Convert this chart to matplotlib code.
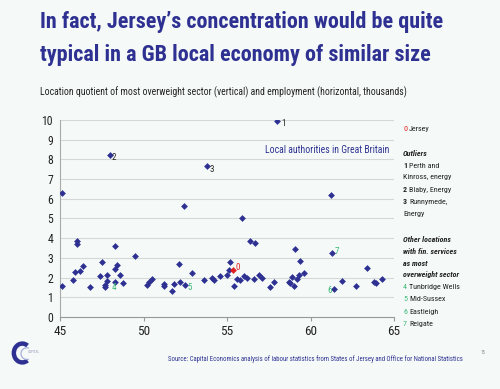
import matplotlib.pyplot as plt
from matplotlib import font_manager as fm
from matplotlib.patches import Arc

# employment (thousands) and location quotient of most overweight sector
emp = [45.1, 45.1, 45.8, 45.9, 46.0, 46.0, 46.2, 46.4, 46.8, 47.4, 47.5, 47.7, 47.7,
       47.8, 47.8, 48.0, 48.3, 48.3, 48.4, 48.3, 48.6, 48.8, 49.5, 50.2, 50.3, 50.5,
       51.2, 51.2, 51.7, 51.8, 52.1, 52.2, 52.4, 52.5, 52.9, 53.6, 53.8, 54.1, 54.2,
       54.6, 55.0, 55.1, 55.2, 55.4, 55.6, 55.8, 55.9, 56.0, 56.2, 56.4, 56.6, 56.7,
       56.9, 57.1, 57.6, 57.8, 58.0, 58.7, 58.8, 58.9, 59.0, 59.1, 59.2, 59.3, 59.4,
       59.6, 61.2, 61.3, 61.4, 61.9, 62.7, 63.4, 63.8, 63.9, 64.3]
lq = [6.3, 1.56, 1.86, 2.3, 3.85, 3.68, 2.34, 2.6, 1.53, 2.1, 2.81, 1.61, 1.53,
      1.83, 2.15, 8.22, 3.59, 2.46, 2.66, 1.76, 2.14, 1.75, 3.12, 1.61, 1.78, 1.95,
      1.58, 1.66, 1.32, 1.66, 2.7, 1.78, 5.63, 1.61, 2.22, 1.86, 7.68, 1.97, 1.86,
      2.1, 2.12, 2.36, 2.78, 1.59, 1.92, 1.88, 5.02, 2.1, 1.98, 3.85, 1.95, 3.76,
      2.12, 2.0, 1.54, 1.78, 9.92, 1.78, 1.75, 2.05, 1.58, 3.44, 1.92, 2.12, 2.85,
      2.24, 6.19, 3.25, 1.41, 1.83, 1.58, 2.49, 1.78, 1.75, 1.92]

jersey_emp = 55.35
jersey_lq = 2.36

# numbered point labels: (text, x, y, colour)
labels = [("1", 58.37, 9.83, "#222222"), ("2", 48.25, 8.1, "#222222"),
          ("3", 54.12, 7.46, "#222222"), ("0", 55.66, 2.49, "#e02020"),
          ("4", 48.25, 1.49, "#3cb878"), ("5", 52.78, 1.49, "#3cb878"),
          ("6", 61.13, 1.37, "#3cb878"), ("7", 61.57, 3.3, "#3cb878")]

navy = "#2e3192"
bg = "#f5faf8"
green = "#3cb878"
dark = "#222222"


def wnum(w):
    if isinstance(w, str):
        return fm.weight_dict.get(w, 400)
    return w


# pick a narrow sans face that has a bold cut
faces = {}
for f in fm.fontManager.ttflist:
    faces.setdefault(f.name, set()).add((wnum(f.weight) >= 700, f.style != 'normal'))
narrow = 'Liberation Sans'
for cand in ['Liberation Sans Narrow', 'Arial Narrow', 'Archivo Narrow', 'PT Sans Narrow',
             'Roboto Condensed', 'Open Sans Condensed', 'Arimo', 'Liberation Sans']:
    if cand in faces and (True, False) in faces[cand] and (True, True) in faces[cand]:
        narrow = cand
        break
plt.rcParams['font.family'] = [narrow, 'Liberation Sans', 'DejaVu Sans']

fig = plt.figure(figsize=(5.0, 3.89), dpi=100, facecolor=bg)
ax = fig.add_axes([0.12, 0.185, 0.668, 0.507], facecolor=bg)
renderer = fig.canvas.get_renderer()


def fit(t, width_px):
    # scale a text so it spans width_px pixels
    w = t.get_window_extent(renderer).width
    t.set_fontsize(t.get_fontsize() * width_px / w)
    return t.get_fontsize()


ax.scatter(emp, lq, marker='D', s=12, color=navy, zorder=3, linewidths=0)
ax.scatter([jersey_emp], [jersey_lq], marker='D', s=12, color="#e02020", zorder=4, linewidths=0)
for t, x, y, c in labels:
    ax.text(x, y, t, color=c, fontsize=6.5, ha='center', va='center', zorder=5)

ax.set_xlim(45, 65)
ax.set_ylim(0, 10)
ax.set_xticks([45, 50, 55, 60, 65])
ax.set_yticks(range(0, 11))
ax.tick_params(axis='x', labelsize=9.5, colors=dark, length=3, color='#999999', pad=3)
ax.tick_params(axis='y', labelsize=8.5, colors=dark, length=0, pad=5)
ax.grid(axis='y', color='#d4d8d6', linewidth=0.8)
ax.set_axisbelow(True)
for s in ['top', 'right']:
    ax.spines[s].set_visible(False)
ax.spines['left'].set_color('#aaaaaa')
ax.spines['bottom'].set_color('#999999')

t = fig.text(389 / 500, 1 - 150 / 389, "Local authorities in Great Britain",
             ha='right', va='center', fontsize=10, color=navy)
fit(t, 124)

# title and subtitle
t1 = fig.text(0.079, 1 - 22 / 389, "In fact, Jersey\u2019s concentration would be quite", fontsize=16,
              fontweight='bold', color=navy, va='center')
fit(t1, 404)
t2 = fig.text(0.079, 1 - 55 / 389, "typical in a GB local economy of similar size", fontsize=16,
              fontweight='bold', color=navy, va='center')
t2.set_fontsize(t1.get_fontsize())
t3 = fig.text(0.079, 1 - 92 / 389, "Location quotient of most overweight sector (vertical) and employment (horizontal, thousands)",
              fontsize=8, color=dark, va='center')
fit(t3, 365)

# side notes
sx = 403 / 500
off = 6 / 500
probe = fig.text(sx, 0.0, "overweight sector", fontsize=7, fontweight='bold', style='italic')
fs = fit(probe, 56)
probe.remove()


def note(y_px, s, num=None, numcol=dark, bold=False, italic=False, numbold=False):
    y = 1 - y_px / 389
    x = sx
    if num is not None:
        fig.text(sx, y, num, fontsize=fs, color=numcol, va='center',
                 fontweight='bold' if numbold else 'normal')
        x = sx + off
    fig.text(x, y, s, fontsize=fs, color=dark, va='center',
             fontweight='bold' if bold else 'normal', style='italic' if italic else 'normal')


note(129, "Jersey", "0", "#e02020")
note(153, "Outliers", bold=True, italic=True)
note(166, "Perth and", "1", numbold=True)
note(177, "Kinross, energy")
note(190, "Blaby, Energy", "2", numbold=True)
note(202, "Runnymede,", "3", numbold=True)
note(214, "Energy")
note(239, "Other locations", bold=True, italic=True)
note(251, "with fin. services", bold=True, italic=True)
note(263, "as most", bold=True, italic=True)
note(275, "overweight sector", bold=True, italic=True)
note(287, "Tunbridge Wells", "4", green)
note(299, "Mid-Sussex", "5", green)
note(312, "Eastleigh", "6", green)
note(324, "Reigate", "7", green)

# footer
src = fig.text(463 / 500, 1 - 359 / 389,
               "Source: Capital Economics analysis of labour statistics from States of Jersey and Office for National Statistics",
               fontsize=5.5, color=navy, ha='right', va='center')
fit(src, 292)
fig.text(483 / 500, 1 - 353 / 389, "15", fontsize=3.5, color='#888888', ha='center', va='center')

# logo
lax = fig.add_axes([8 / 500, 1 - 366 / 389, 26 / 500, 26 / 389])
lax.set_xlim(-1, 1)
lax.set_ylim(-1, 1)
lax.axis('off')
lax.add_patch(Arc((0.1, 0), 1.3, 1.45, theta1=55, theta2=305, color=navy, linewidth=3.2))
lax.add_patch(Arc((0.45, -0.05), 0.9, 0.9, theta1=70, theta2=290, color='#9fa6d8', linewidth=0.8))
fig.text(28 / 500, 1 - 352 / 389, "CAPITAL", fontsize=2.5, color='#9999bb', va='center')

fig.savefig("out.png", dpi=100, facecolor=bg)
